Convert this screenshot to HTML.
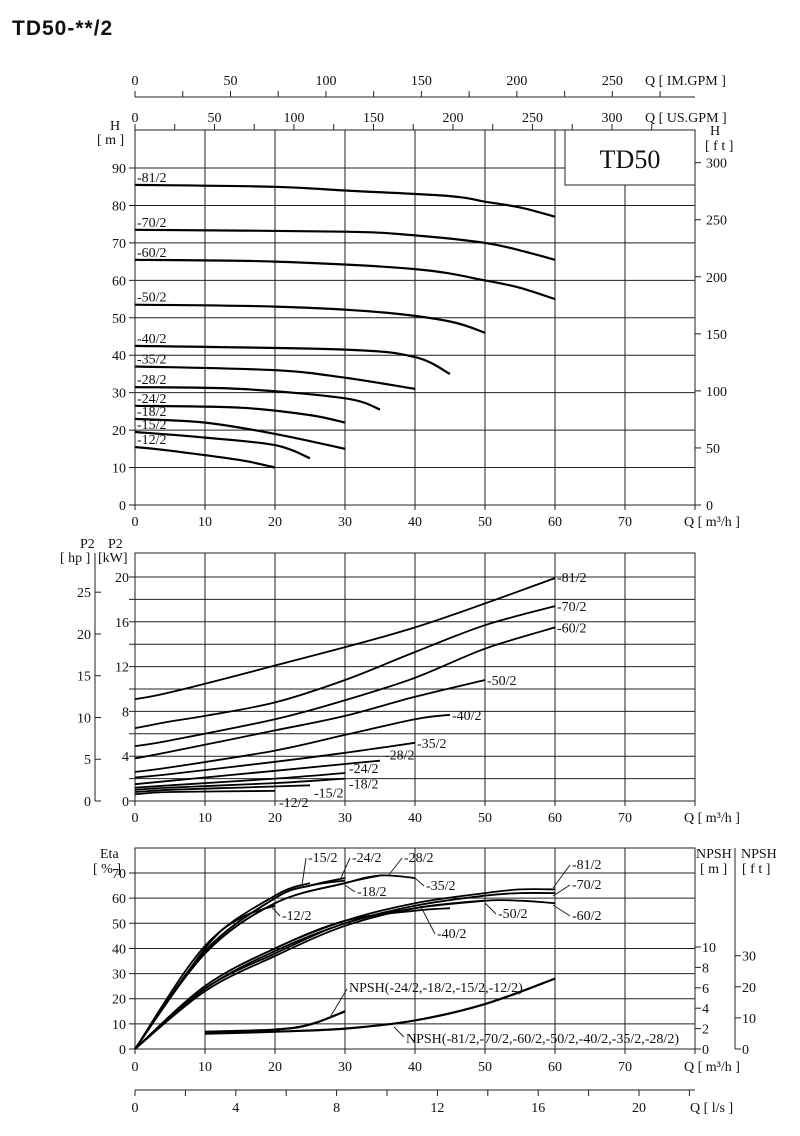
<!DOCTYPE html>
<html><head><meta charset="utf-8"><style>
body{margin:0;background:#fff;width:800px;height:1136px;overflow:hidden}
svg{display:block}
text{font-family:"Liberation Serif",serif;font-size:14px;fill:#111}
</style></head><body>
<svg id="c" width="800" height="1136">
<text x="12" y="35" style="font-family:'Liberation Sans',sans-serif;font-weight:bold;font-size:21px;letter-spacing:1px">TD50-**/2</text>
</svg>
<script>
// ---- data ----
const headSeries=["-81/2","-70/2","-60/2","-50/2","-40/2","-35/2","-28/2","-24/2","-18/2","-15/2","-12/2"];
const headQ=[[0,20,30,45,50,55,60],[0,30,40,50,55,60],[0,20,40,50,55,60],[0,20,35,45,50],[0,30,40,45],[0,20,30,40],[0,15,30,35],[0,15,25,30],[0,10,20,30],[0,10,20,25],[0,5,15,20]];
const headH=[[85.5,85,84,82.5,81,79.5,77],[73.5,73,72,70,68,65.5],[65.5,65,63,60,58,55],[53.5,53,51.5,49,46],[42.5,41.5,39.5,35],[37,36,34,31],[31.5,31,28.5,25.5],[26.5,26,24,22],[23,22,19,15],[19.5,18,16,12.5],[15.5,14.5,12,10]];
const powQ=[[0,5,20,40,60],[0,5,10,20,30,40,50,60],[0,5,20,30,40,50,60],[0,5,20,30,40,50],[0,5,20,30,40,45],[0,5,20,30,40],[0,5,20,30,35],[0,5,20,30],[0,5,20,30],[0,5,15,25],[0,5,20]];
const powKW=[[9.1,9.7,12.1,15.5,19.9],[6.5,7.1,7.6,8.8,10.8,13.3,15.7,17.4],[4.9,5.4,7.3,9,11,13.6,15.5],[3.8,4.4,6.3,7.6,9.3,10.8],[2.6,3.0,4.5,5.9,7.3,7.7],[2.1,2.4,3.5,4.3,5.2],[1.5,1.8,2.7,3.3,3.6],[1.2,1.4,2.0,2.5],[1.0,1.2,1.6,2.0],[0.8,1.0,1.2,1.4],[0.6,0.8,0.9]];
const etaSeries=["-81/2","-70/2","-60/2","-50/2","-40/2","-35/2","-28/2","-24/2","-18/2","-15/2","-12/2"];
const etaQ=[[0,10,20,30,40,50,55,60],[0,10,20,30,40,50,55,60],[0,10,20,30,40,50,55,60],[0,10,20,30,40,50],[0,10,20,30,40,45],[0,10,20,30,35,40],[0,10,20,30,35],[0,10,20,25,30],[0,10,20,25,30],[0,10,20,25],[0,10,15,20]];
const etaV=[[0,25,40,51,58,62,63.5,63.5],[0,24,39,50,57,61,62,62],[0,23,37,49,56,59,59,58],[0,24,38,50,56,59],[0,25,40,51,55,56],[0,38,58,66,69,68],[0,38,58,66,69],[0,39,60,65,68],[0,39,60,65,67],[0,41,61,66],[0,40,52,57]];
const npshQ1=[10,20,25,30], npshV1=[1.7,1.9,2.4,3.7];
const npshQ2=[10,20,30,40,50,60], npshV2=[1.5,1.7,2.0,2.8,4.4,6.9];
// ---- scales ----
const X=q=>135+q*7;
const YH=h=>505-h*3.744;
const YP=p=>801-p*11.2;
const YE=e=>1049-e*2.514;
const YN=n=>1049-n*10.2;
const svg=document.getElementById('c');const NS='http://www.w3.org/2000/svg';
function el(t,a,name,txt){const e=document.createElementNS(NS,t);for(const k in a)e.setAttribute(k,a[k]);


if(txt!==undefined)e.textContent=txt;svg.appendChild(e);return e;}
function line(x1,y1,x2,y2,name,w){return el('line',{x1,y1,x2,y2,stroke:'#222','stroke-width':w||1},name);}
function txt(x,y,s,name,anchor){return el('text',{x,y,'text-anchor':anchor||'start'},name,s);}
function path(qs,vs,ys,name,w){
  const p=qs.map((q,i)=>[X(q),ys(vs[i])]);
  let d='M'+p[0][0].toFixed(1)+','+p[0][1].toFixed(1);
  for(let i=0;i<p.length-1;i++){
    const p0=p[i-1]||p[i],p1=p[i],p2=p[i+1],p3=p[i+2]||p[i+1];
    const c1=[p1[0]+(p2[0]-p0[0])/6,p1[1]+(p2[1]-p0[1])/6];
    const c2=[p2[0]-(p3[0]-p1[0])/6,p2[1]-(p3[1]-p1[1])/6];
    d+='C'+c1.map(v=>v.toFixed(1)).join(',')+' '+c2.map(v=>v.toFixed(1)).join(',')+' '+p2[0].toFixed(1)+','+p2[1].toFixed(1);
  }
  return el('path',{d,fill:'none',stroke:'#000','stroke-width':w||2.2,'stroke-linejoin':'round'},name);}
// top axes
line(135,97,695,97,'im-gpm-axis');
for(let g=0;g<=275;g+=25){const x=X(g/3.666);line(x,97,x,91,'im-gpm-tick');if(g%50==0)txt(x,85,g,'im-gpm-label','middle');}
txt(645,85,'Q [ IM.GPM ]','im-gpm-title');
for(let g=0;g<=340;g+=25){const x=X(g/4.403);if(x>695)break;line(x,130,x,124,'us-gpm-tick');if(g%50==0)txt(x,122,g,'us-gpm-label','middle');}
txt(645,122,'Q [ US.GPM ]','us-gpm-title');
// chart 1
for(let h=0;h<=90;h+=10){line(129,YH(h),695,YH(h),'head-gridline');txt(126,YH(h)+5,h,'head-tick-label','end');}
for(let q=0;q<=80;q+=10){line(X(q),130,X(q),510,'q-gridline');}
el('rect',{x:135,y:130,width:560,height:375,fill:'none',stroke:'#222'},'head-plot-frame');
el('rect',{x:565,y:130,width:130,height:55,fill:'#fff',stroke:'#222'},'model-box');
el('text',{x:630,y:168,'text-anchor':'middle',style:'font-size:26px'},'model-label','TD50');
for(let f=0;f<=300;f+=50){const y=505-f*0.3048*3.744;line(695,y,701,y,'ft-tick');txt(706,y+5,f,'ft-label');}
txt(110,130,'H','head-axis-title');txt(97,144,'[ m ]','head-unit');txt(710,135,'H','ft-axis-title');txt(705,150,'[ f t ]','ft-unit');
for(let q=0;q<=70;q+=10)txt(X(q),526,q,'q-label','middle');
txt(684,526,'Q [ m³/h ]','q-axis-title');
headSeries.forEach((s,i)=>{path(headQ[i],headH[i],YH,'head-curve');txt(137,YH(headH[i][0])-3,s,'head-curve-label');});
// chart 2
for(let p=0;p<=20;p+=2){line(129,YP(p),695,YP(p),'power-gridline');if(p%4==0)txt(129,YP(p)+5,p,'kw-tick-label','end');}
for(let q=0;q<=80;q+=10)line(X(q),553,X(q),806,'q-gridline');
el('rect',{x:135,y:553,width:560,height:248,fill:'none',stroke:'#222'},'power-plot-frame');
line(95,553,95,801,'hp-axis');
for(let h=0;h<=25;h+=5){const y=801-h*0.7457*11.2;line(95,y,101,y,'hp-tick');txt(91,y+5,h,'hp-tick-label','end');}
txt(80,548,'P2','hp-axis-title');txt(60,562,'[ hp ]','hp-unit');txt(108,548,'P2','kw-axis-title');txt(98,562,'[kW]','kw-unit');
for(let q=0;q<=70;q+=10)txt(X(q),822,q,'q-label','middle');
txt(684,822,'Q [ m³/h ]','q-axis-title');
const pLab=[[0,-1],[0,0],[0,0],[0,0],[0,0],[0,0],[3,-6],[2,-5],[2,5],[2,7],[2,11]];
headSeries.forEach((s,i)=>{const n=powQ[i].length-1;path(powQ[i],powKW[i],YP,'power-curve',1.8);
txt(X(powQ[i][n])+2+pLab[i][0],YP(powKW[i][n])+5+pLab[i][1],s,'power-curve-label');});
// chart 3
for(let e=0;e<=70;e+=10){line(129,YE(e),695,YE(e),'eta-gridline');txt(126,YE(e)+5,e,'eta-tick-label','end');}
for(let q=0;q<=80;q+=10)line(X(q),848,X(q),1054,'q-gridline');
el('rect',{x:135,y:848,width:560,height:201,fill:'none',stroke:'#222'},'eta-plot-frame');
txt(100,858,'Eta','eta-axis-title');txt(93,873,'[ % ]','eta-unit');
for(let n=0;n<=10;n+=2){line(695,YN(n),701,YN(n),'npsh-m-tick');txt(702,YN(n)+5,n,'npsh-m-label');}
line(735,848,735,1049,'npsh-ft-axis');
for(let f=0;f<=30;f+=10){const y=1049-f*0.3048*10.2;line(735,y,741,y,'npsh-ft-tick');txt(742,y+5,f,'npsh-ft-label');}
txt(696,858,'NPSH','npsh-m-title');txt(700,873,'[ m ]','npsh-m-unit');txt(741,858,'NPSH','npsh-ft-title');txt(742,873,'[ f t ]','npsh-ft-unit');
for(let q=0;q<=70;q+=10)txt(X(q),1071,q,'q-label','middle');
txt(684,1071,'Q [ m³/h ]','q-axis-title');
etaSeries.forEach((s,i)=>path(etaQ[i],etaV[i],YE,'eta-curve',1.8));
const eL=[['-15/2',308,862],['-24/2',352,862],['-28/2',404,862],['-18/2',357,896],['-35/2',426,890],['-12/2',282,920],['-40/2',437,938],['-50/2',498,918],['-60/2',572,920],['-70/2',572,889],['-81/2',572,869]];
eL.forEach(l=>txt(l[1],l[2],l[0],'eta-curve-label'));
const lead=[[306,858,302,885],[350,858,340,880],[402,858,388,876],[355,892,345,885],[424,886,415,878],[280,916,270,905],[435,934,420,905],[496,914,485,903],[570,916,553,905],[570,885,553,896],[570,865,553,888]];
lead.forEach(a=>line(a[0],a[1],a[2],a[3],'eta-label-leader'));
path(npshQ1,npshV1,YN,'npsh-curve-small',2.2);path(npshQ2,npshV2,YN,'npsh-curve-large',2.2);
txt(349,992,'NPSH(-24/2,-18/2,-15/2,-12/2)','npsh-small-label');
line(347,989,329,1019,'npsh-small-leader');
txt(406,1043,'NPSH(-81/2,-70/2,-60/2,-50/2,-40/2,-35/2,-28/2)','npsh-large-label');
line(404,1037,394,1027,'npsh-large-leader');
// l/s axis
line(135,1090,695,1090,'ls-axis');
for(let l=0;l<=22;l+=2){const x=X(l*3.6);line(x,1090,x,1096,'ls-tick');if(l%4==0&&l<=20)txt(x,1112,l,'ls-label','middle');}
txt(690,1112,'Q [ l/s ]','ls-axis-title');
</script>
</body></html>
